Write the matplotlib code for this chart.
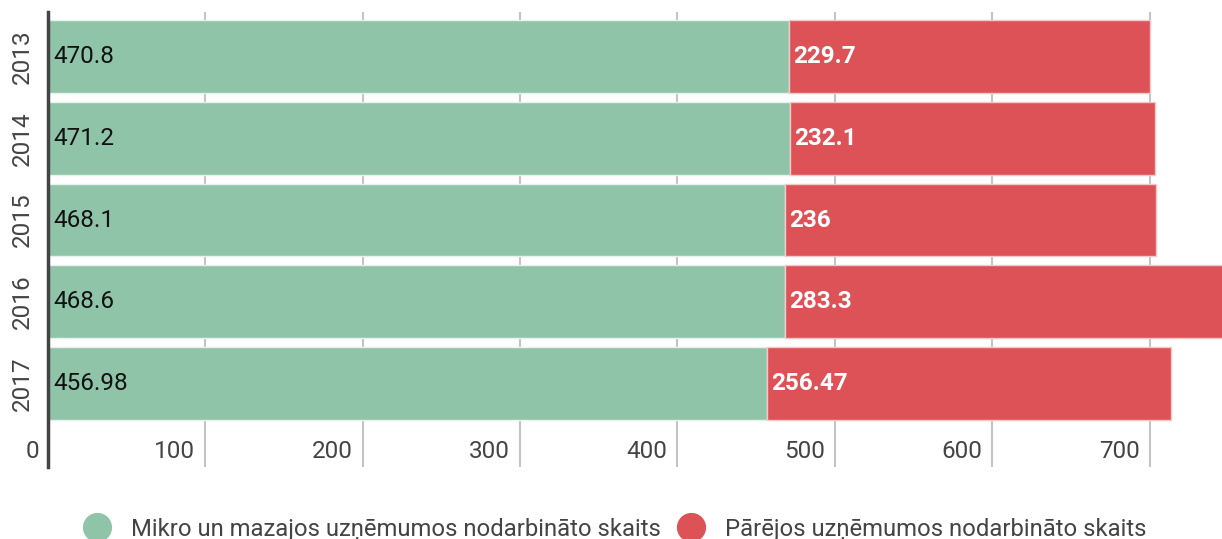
import numpy as np
import matplotlib
matplotlib.use("Agg")
from matplotlib import pyplot as plt
from matplotlib.lines import Line2D
from matplotlib import transforms

plt.rcParams['font.family'] = ['Roboto', 'DejaVu Sans']

# dati
years = ["2013", "2014", "2015", "2016", "2017"]
mikro = [470.8, 471.2, 468.1, 468.6, 456.98]
citi = [229.7, 232.1, 236, 283.3, 256.47]
mikro_lbl = ["470.8", "471.2", "468.1", "468.6", "456.98"]
citi_lbl = ["229.7", "232.1", "236", "283.3", "256.47"]
ticks = [100, 200, 300, 400, 500, 600, 700]
legend_names = ["Mikro un mazajos uzņēmumos nodarbināto skaits",
                "Pārējos uzņēmumos nodarbināto skaits"]

green = "#8fc4a8"
red = "#dd5257"
fs = 17.5

fig = plt.figure(figsize=(12.22, 5.39), dpi=100)
W, H = 1222, 539
ax = fig.add_axes([48 / W, 1 - 467 / H, (W - 48) / W, 455 / H])

y = np.arange(len(years))
ax.barh(y, mikro, height=0.89, color=green, edgecolor="#e6f2ec", linewidth=1, zorder=2)
ax.barh(y, citi, left=mikro, height=0.89, color=red, edgecolor="#f2c8ca", linewidth=1, zorder=2)

ax.set_xlim(0, 746)
ax.set_ylim(len(years) - 1 + 1.02, -0.544)

for t in ticks:
    ax.axvline(t, color="#c4c4c4", lw=1.5, zorder=1)

# x ass uzraksti pa kreisi no rezga liniju
tr = transforms.blended_transform_factory(ax.transData, fig.transFigure)
for t in [0] + ticks:
    off = -10 if t else -9
    ax.text(t, 1 - 452 / H, str(t),
            transform=transforms.offset_copy(tr, fig=fig, x=off, y=0, units="dots"),
            ha="right", va="center", fontsize=fs, color="#444444")

# vertibas uz stabiem
for i in range(len(years)):
    ax.annotate(mikro_lbl[i], (0, i), xytext=(4, 0), textcoords="offset points",
                ha="left", va="center", fontsize=fs, color="#111111", zorder=3)
    ax.annotate(citi_lbl[i], (mikro[i], i), xytext=(3, 0), textcoords="offset points",
                ha="left", va="center", fontsize=fs, color="white",
                fontweight="bold", zorder=3)

ax.set_yticks(y)
ax.set_yticklabels(years, rotation=90, va="center", fontsize=fs, color="#444444")
ax.tick_params(axis="y", length=0, pad=10)
ax.set_xticks([])
for s in ["top", "right", "bottom"]:
    ax.spines[s].set_visible(False)
ax.spines["left"].set_color("#444444")
ax.spines["left"].set_linewidth(2.5)
ax.spines["left"].set_zorder(4)

handles = [Line2D([], [], marker="o", ls="", markersize=20, color=c) for c in (green, red)]
fig.legend(handles, legend_names, loc="center", bbox_to_anchor=(0.499, 10 / H),
           ncol=2, frameon=False, fontsize=17.2, handletextpad=0.4, columnspacing=0.3,
           labelcolor="#444444", borderpad=0)

fig.savefig("out.png", dpi=100)
